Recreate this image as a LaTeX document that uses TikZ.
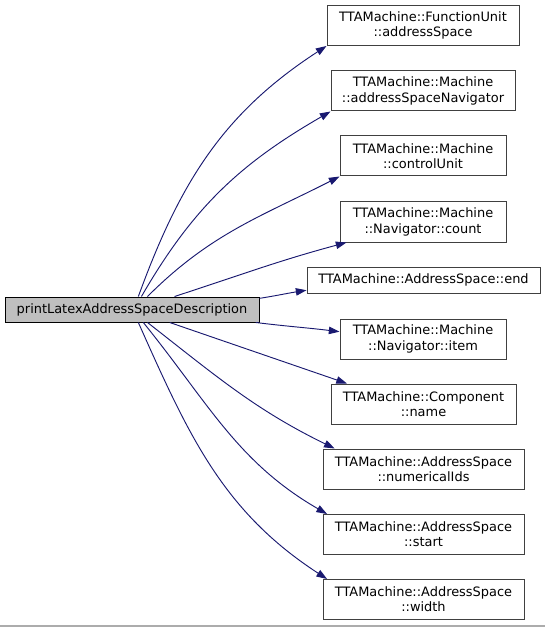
\documentclass[tikz,border=0pt]{standalone}
\usepackage{fontspec}
\setmainfont{DejaVu Sans}
\usetikzlibrary{arrows.meta}
\definecolor{edgeblue}{RGB}{25,25,112}
\definecolor{callgray}{RGB}{191,191,191}
\definecolor{boxgray}{RGB}{64,64,64}

\begin{document}
\begin{tikzpicture}[x=0.75pt, y=0.75pt,
    font=\fontsize{9.7pt}{11.4pt}\selectfont,
    fnbox/.style={draw=boxgray, line width=0.75pt, align=center, inner sep=0pt, minimum height=30pt},
    caller/.style={draw=black, fill=callgray, line width=0.75pt, inner sep=0pt, minimum height=18.75pt, minimum width=190.5pt},
    call/.style={edgeblue, line width=0.7pt, -{Triangle[length=8pt,width=5.6pt]}}]
    \useasboundingbox (0,0) rectangle (545,-627);

    % Caller
    \node[caller] (main) at (132,-309.5) {printLatexAddressSpaceDescription};

    % Called functions
    \foreach \id/\x/\y/\w/\txt in {
        a/423/-25.5/144pt/{TTAMachine::FunctionUnit\\::addressSpace},
        b/423/-91/138pt/{TTAMachine::Machine\\::addressSpaceNavigator},
        c/423/-156/124.5pt/{TTAMachine::Machine\\::controlUnit},
        d/423/-222/124.5pt/{TTAMachine::Machine\\::Navigator::count},
        f/423/-339/124.5pt/{TTAMachine::Machine\\::Navigator::item},
        g/423.5/-404/138.75pt/{TTAMachine::Component\\::name},
        h/423.5/-469/150.75pt/{TTAMachine::AddressSpace\\::numericalIds},
        i/423.5/-534.5/150.75pt/{TTAMachine::AddressSpace\\::start},
        j/423.5/-599.5/150.75pt/{TTAMachine::AddressSpace\\::width}} {
        \node[fnbox, minimum width=\w] (\id) at (\x,\y) {\txt};
    }
    \node[fnbox, minimum width=174.75pt, minimum height=19.5pt] (e) at (423.5,-280) {TTAMachine::AddressSpace::end};

    % Calls
    \draw[call] (main.64) to[out=70,in=213] (a.south west);
    \draw[call] (main.54) to[out=60,in=210] (b.south west);
    \draw[call] (main.40) to[out=45,in=207] (c.south west);
    \draw[call] (main.17) to[out=18,in=195] (d.195);
    \draw[call] (main.5) to[out=9,in=189] (e.185);
    \draw[call] (main.-6) to[out=-7,in=173] (f.175);
    \draw[call] (main.-19) to[out=-19,in=161] (g.165);
    \draw[call] (main.-40) to[out=-38,in=154] (h.167);
    \draw[call] (main.-49) to[out=-51,in=150] (i.168);
    \draw[call] (main.-64) to[out=-66,in=147] (j.168);

    % Bottom border
    \draw[gray!65, line width=1.1pt] (0,-626) -- (545,-626);
\end{tikzpicture}
\end{document}
